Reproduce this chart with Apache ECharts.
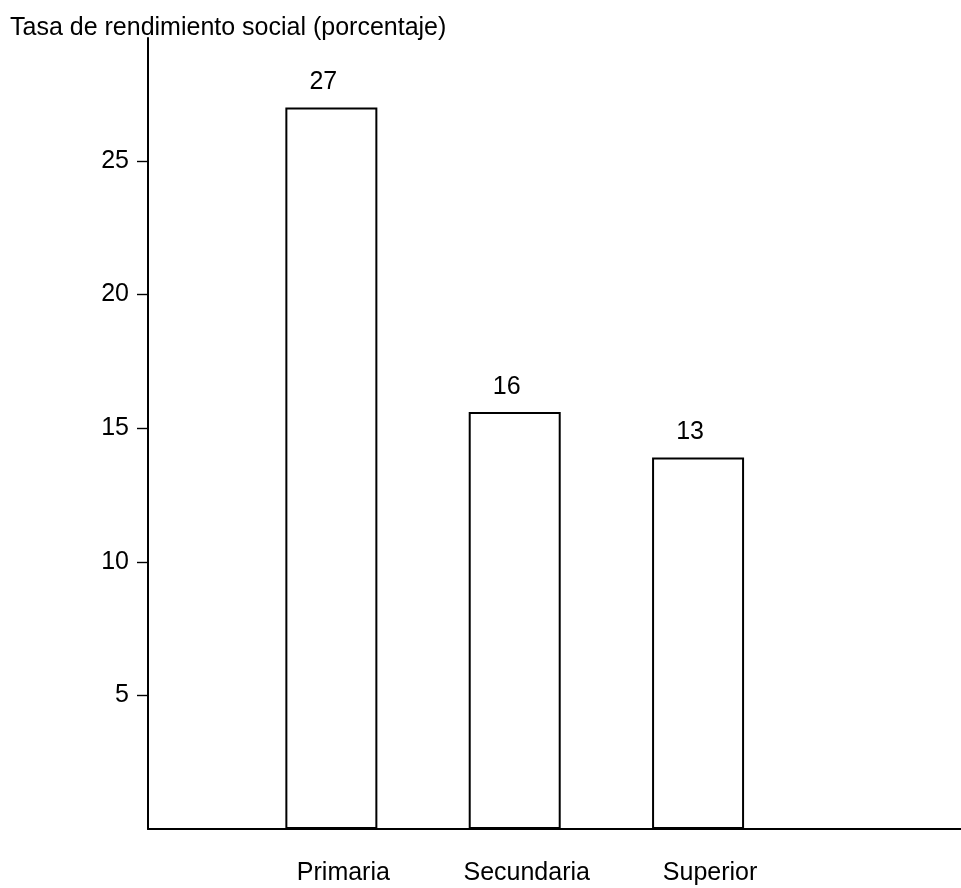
<!DOCTYPE html>
<html>
<head>
<meta charset="utf-8">
<script src="https://cdn.jsdelivr.net/npm/echarts@6/dist/echarts.min.js"></script>
<style>
  html, body { margin: 0; padding: 0; background: #fff; }
  #chart { width: 961px; height: 888px; }
</style>
</head>
<body>
<div id="chart"></div>
<script>
// Data
const categories = ['Primaria', 'Secundaria', 'Superior'];
const barValues = [27.0, 15.6, 13.9];      // bar heights as drawn
const valueLabels = ['27', '16', '13'];    // printed labels above bars
const yTicks = [5, 10, 15, 20, 25];
const titleText = 'Tasa de rendimiento social (porcentaje)';

const FONT = '"Liberation Sans", Arial, Helvetica, sans-serif';

const seriesData = barValues.map((v, i) => [i + 1, v]);

const chart = echarts.init(document.getElementById('chart'), null, { renderer: 'canvas' });
chart.setOption({
  backgroundColor: '#ffffff',
  animation: false,
  title: {
    text: titleText,
    left: 5,
    top: 11,
    textStyle: { fontFamily: FONT, fontSize: 25, fontWeight: 'normal', color: '#000' }
  },
  grid: { left: 148, right: 0, top: 38, bottom: 59, containLabel: false },
  xAxis: {
    type: 'value',
    min: 0,
    max: 4.434,
    interval: 1,
    splitLine: { show: false },
    axisTick: { show: false },
    axisLine: { show: true, onZero: false, lineStyle: { color: '#000', width: 2 } },
    axisLabel: {
      margin: 32,
      padding: [0, 0, 0, 24],
      fontFamily: FONT,
      fontSize: 25,
      color: '#000',
      showMinLabel: false,
      showMaxLabel: false,
      formatter: function (v) {
        const i = Math.round(v) - 1;
        return (i >= 0 && i < categories.length) ? categories[i] : '';
      }
    }
  },
  yAxis: {
    type: 'value',
    min: 0,
    max: 29.6,
    interval: 5,
    splitLine: { show: false },
    axisLine: { show: true, lineStyle: { color: '#000', width: 2 } },
    axisTick: { show: true, length: 11, customValues: yTicks, lineStyle: { color: '#000', width: 1.4 } },
    axisLabel: {
      margin: 19,
      fontFamily: FONT,
      fontSize: 25,
      color: '#000',
      customValues: yTicks,
      formatter: function (v) { return String(v); }
    }
  },
  series: [{
    type: 'bar',
    data: seriesData,
    barWidth: 92,
    itemStyle: { color: '#ffffff', borderColor: '#000', borderWidth: 2 },
    label: {
      show: true,
      position: 'top',
      distance: 13,
      offset: [-8, 0],
      fontFamily: FONT,
      fontSize: 25,
      color: '#000',
      formatter: function (p) { return valueLabels[p.dataIndex]; }
    }
  }]
});
</script>
</body>
</html>
